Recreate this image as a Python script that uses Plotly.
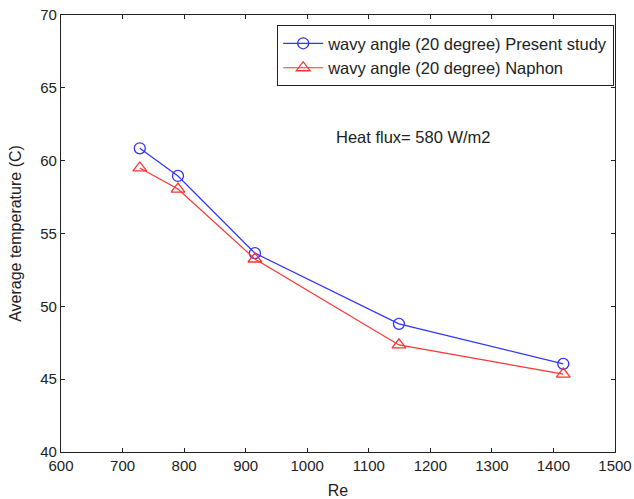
import plotly.graph_objects as go

re_present = [728, 790, 915, 1149, 1416]
t_present = [60.85, 58.95, 53.65, 48.8, 46.05]
re_naphon = [728, 790, 915, 1149, 1416]
t_naphon = [59.5, 58.05, 53.25, 47.35, 45.35]
x_ticks = [600, 700, 800, 900, 1000, 1100, 1200, 1300, 1400, 1500]
y_ticks = [40, 45, 50, 55, 60, 65, 70]

fam = "Liberation Sans, Arial, sans-serif"
tick_font = dict(family=fam, size=15, color="#222")
title_font = dict(family=fam, size=16, color="#222")
big_font = dict(family=fam, size=16.5, color="#222")

fig = go.Figure()
fig.add_trace(go.Scatter(
    x=re_present, y=t_present, mode="lines+markers",
    name="wavy angle (20 degree) Present study",
    line=dict(color="#3333ff", width=1.2),
    marker=dict(symbol="circle-open", size=11, color="#3333ff", line=dict(width=1.3)),
))
fig.add_trace(go.Scatter(
    x=re_naphon, y=t_naphon, mode="lines+markers",
    name="wavy angle (20 degree) Naphon",
    line=dict(color="#ff3333", width=1.2),
    marker=dict(symbol="triangle-up-open", size=12, color="#ff3333", line=dict(width=1.3)),
))

axis_common = dict(
    showgrid=False, zeroline=False, showline=True, linecolor="#222", linewidth=1.2,
    mirror="ticks", ticks="inside", ticklen=4, tickcolor="#222", tickfont=tick_font,
    automargin=False,
)
fig.update_xaxes(range=[600, 1500], tickvals=x_ticks, ticklabelstandoff=0,
                 title=dict(text="Re", font=title_font, standoff=11), **axis_common)
fig.update_yaxes(range=[40, 70], tickvals=y_ticks,
                 title=dict(text="Average temperature (C)", font=title_font, standoff=14), **axis_common)

fig.add_annotation(x=1173, y=61.65, text="Heat flux= 580 W/m2", showarrow=False, font=big_font)

fig.update_layout(
    width=634, height=499,
    margin=dict(l=61, r=19, t=15, b=47),
    paper_bgcolor="white", plot_bgcolor="white",
    font=tick_font,
    showlegend=True,
    legend=dict(x=0.9985, y=0.977, xanchor="right", yanchor="top",
                bordercolor="#222", borderwidth=1, bgcolor="white",
                font=big_font, tracegroupgap=0, itemwidth=40),
)

fig.write_html("out.html")
